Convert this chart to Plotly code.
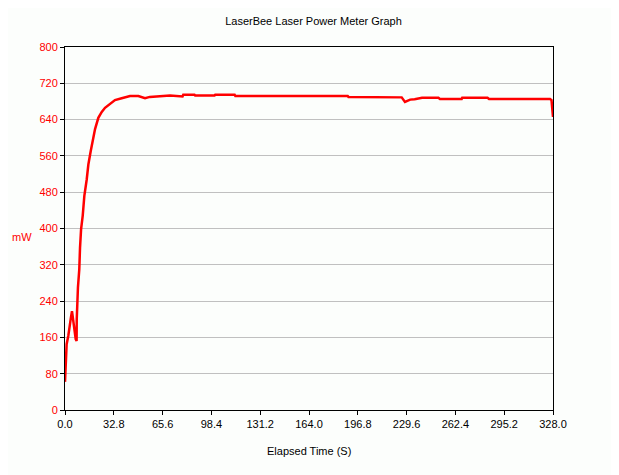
import plotly.graph_objects as go

elapsed = [0.0, 0.3, 0.6, 1.1, 2.2, 2.9, 4.0, 4.7, 5.6, 6.3, 7.2, 7.8, 7.9,
           8.7, 9.6, 10.1, 10.8, 11.9, 13.0, 14.6, 15.7, 17.3, 18.6, 20.2,
           22.4, 24.7, 26.9, 30.2, 33.6, 38.1, 43.7, 49.3, 53.8, 57.0, 70.6,
           79.0, 79.5, 87.0, 87.5, 100.5, 101.0, 114.0, 114.5, 168.0, 170.0,
           190.0, 190.5, 206.0, 208.0, 226.3, 228.5, 230.0, 232.0, 235.0,
           240.0, 251.0, 252.0, 266.6, 267.0, 284.0, 285.0, 300.0, 301.0,
           326.0, 327.0, 328.0]
power_mw = [62, 90, 126, 145, 163, 185, 204, 218, 196, 170, 156, 152, 200,
            270, 310, 358, 398, 428, 472, 508, 541, 571, 597, 619,
            644, 657, 666, 675, 683, 687, 692, 692, 687, 690, 693,
            691, 695, 695, 693, 693, 695, 695, 692, 692, 692,
            692, 690, 690, 689, 689, 679, 681, 684, 685,
            688, 688, 685.5, 685.5, 688, 688, 685.5, 685.5, 685.5,
            685.5, 683, 646]

x_ticks = [0.0, 32.8, 65.6, 98.4, 131.2, 164.0, 196.8, 229.6, 262.4, 295.2, 328.0]
y_ticks = [0, 80, 160, 240, 320, 400, 480, 560, 640, 720, 800]

bg = "#fcfefc"
font = "Liberation Sans, Arial, sans-serif"

fig = go.Figure()
fig.add_trace(go.Scatter(
    x=elapsed, y=power_mw, mode="lines",
    line=dict(color="#ff0000", width=2.5),
    showlegend=False, hoverinfo="x+y",
))

# page body adds ~8px offset, so the figure is a bit smaller than the window
fig.update_layout(
    width=611, height=467,
    margin=dict(l=57, r=66, t=39, b=65),
    paper_bgcolor=bg, plot_bgcolor=bg,
    font=dict(family=font, size=11, color="black"),
    title=dict(text="LaserBee Laser Power Meter Graph", x=0.5, xanchor="center",
               yref="container", y=1 - 13 / 467, yanchor="middle",
               font=dict(size=11, color="black")),
    xaxis=dict(
        range=[0, 328], tickvals=x_ticks, ticktext=["%.1f" % v for v in x_ticks],
        showgrid=False, zeroline=False, showline=True, linecolor="black",
        linewidth=1, mirror=True, ticks="outside", ticklen=4,
        tickcolor="black", tickfont=dict(color="black", size=11),
    ),
    yaxis=dict(
        range=[0, 800], tickvals=y_ticks,
        showgrid=True, gridcolor="#c0c0c0", gridwidth=1, zeroline=False,
        showline=True, linecolor="black", linewidth=1, mirror=True,
        ticks="outside", ticklen=4, tickcolor="black",
        tickfont=dict(color="#ff0000", size=11),
    ),
    annotations=[
        dict(text="Elapsed Time (S)", xref="paper", yref="paper",
             x=0.5, y=(410 - 451) / 363, xanchor="center", yanchor="middle",
             showarrow=False, font=dict(size=11, color="black")),
        dict(text="mW", xref="paper", yref="paper",
             x=(10 - 65) / 488, y=(410 - 237) / 363, xanchor="left",
             yanchor="middle", showarrow=False,
             font=dict(size=11, color="#ff0000")),
    ],
)

fig.write_html("out.html")
